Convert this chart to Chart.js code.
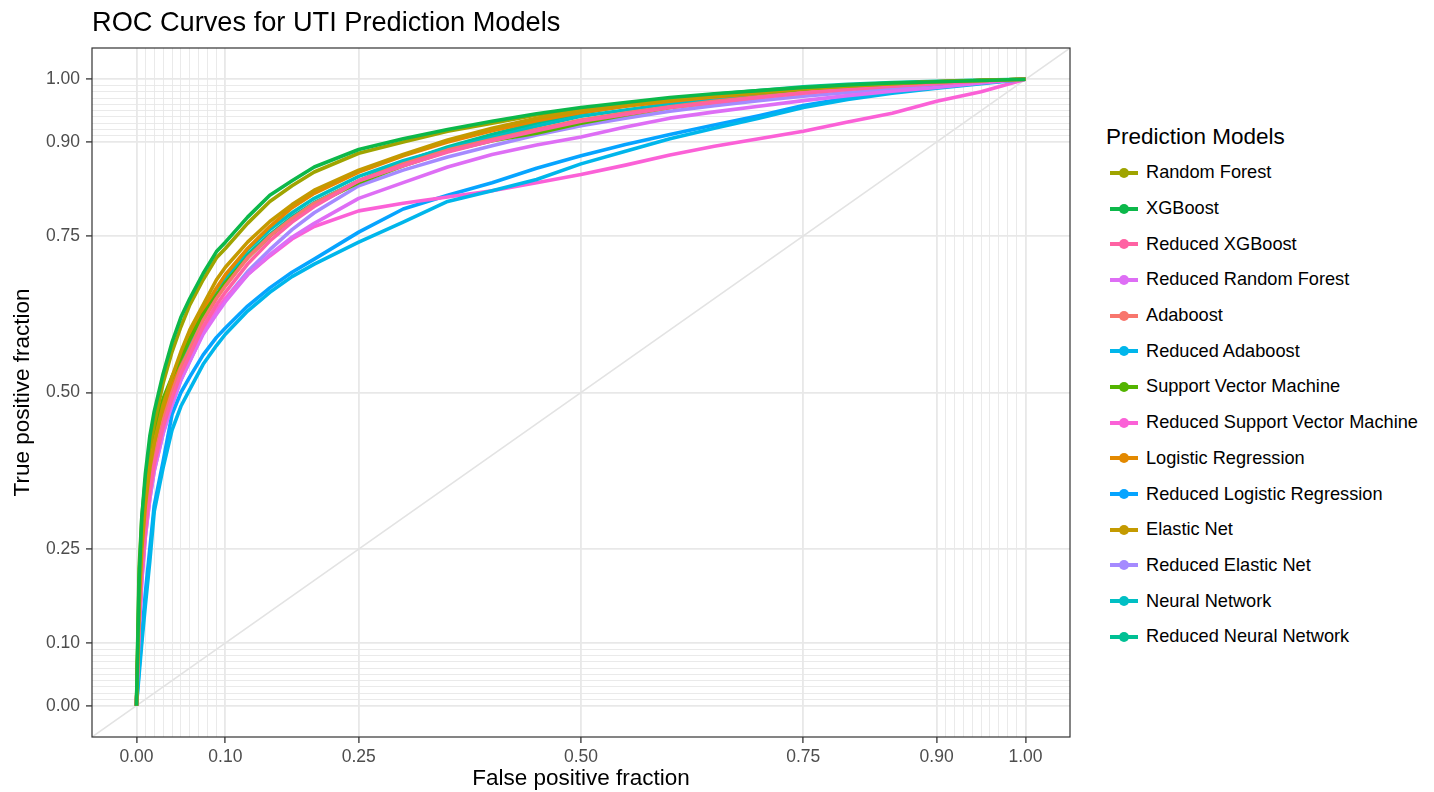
<!DOCTYPE html>
<html lang="en">
<head>
<meta charset="UTF-8">
<title>ROC Curves for UTI Prediction Models</title>
<script src="https://cdn.jsdelivr.net/npm/chart.js"></script>
<style>
  body { margin: 0; background: #fff; font-family: "Liberation Sans", Arial, sans-serif; }
  #wrap { position: relative; width: 1434px; height: 792px; }
  #chartBox { position: absolute; left: 0; top: 0; width: 1080px; height: 792px; }
  #legend { position: absolute; left: 1106px; top: 119px; color: #000; }
  .legend-title { font-size: 22.5px; height: 36px; line-height: 36px; }
  .legend-item { display: flex; align-items: center; height: 35.7px; font-size: 18.2px; }
  .key { position: relative; width: 28px; height: 4px; margin-left: 4px; margin-right: 8px; }
  .key span { position: absolute; left: 9px; top: -3px; width: 10px; height: 10px; border-radius: 50%; }
</style>
</head>
<body>
<div id="wrap">
  <div id="chartBox"><canvas id="rocChart"></canvas></div>
  <div id="legend"></div>
</div>
<script>
const chartTitle = 'ROC Curves for UTI Prediction Models';
const legendTitle = 'Prediction Models';

// axis breaks (plotROC style: labelled majors plus fine grid near the ends)
const majorTicks = [0, 0.1, 0.25, 0.5, 0.75, 0.9, 1];
const minorTicks = [0.01, 0.02, 0.03, 0.04, 0.05, 0.06, 0.07, 0.08, 0.09,
                    0.91, 0.92, 0.93, 0.94, 0.95, 0.96, 0.97, 0.98, 0.99];
const axisRange = [-0.05, 1.05];

// false positive fraction at which every curve is read
const fprGrid = [0, 0.003, 0.006, 0.01, 0.015, 0.02, 0.03, 0.04, 0.05, 0.06, 0.075, 0.09, 0.1,
  0.125, 0.15, 0.175, 0.2, 0.25, 0.3, 0.35, 0.4, 0.45, 0.5, 0.55, 0.6, 0.65, 0.7, 0.75, 0.8,
  0.85, 0.9, 0.95, 1];

// true positive fraction per model
const rfTpr = [0, 0.18, 0.28, 0.35, 0.41, 0.45, 0.515, 0.565, 0.605, 0.64, 0.68, 0.715, 0.73, 0.77, 0.805, 0.83, 0.852, 0.882, 0.9, 0.917, 0.93, 0.943, 0.953, 0.961, 0.968, 0.974, 0.979, 0.985, 0.989, 0.993, 0.996, 0.998, 1];
const xgbTpr = [0, 0.2, 0.3, 0.37, 0.43, 0.47, 0.53, 0.58, 0.62, 0.65, 0.69, 0.725, 0.74, 0.78, 0.815, 0.838, 0.86, 0.888, 0.905, 0.92, 0.933, 0.945, 0.955, 0.963, 0.971, 0.977, 0.982, 0.987, 0.991, 0.994, 0.996, 0.998, 1];
const redXgbTpr = [0, 0.13, 0.21, 0.28, 0.34, 0.385, 0.445, 0.49, 0.53, 0.56, 0.605, 0.64, 0.66, 0.705, 0.742, 0.772, 0.797, 0.838, 0.862, 0.884, 0.902, 0.918, 0.933, 0.944, 0.955, 0.963, 0.971, 0.978, 0.984, 0.989, 0.993, 0.997, 1];
const redRfTpr = [0, 0.12, 0.2, 0.27, 0.33, 0.375, 0.435, 0.48, 0.52, 0.55, 0.593, 0.625, 0.645, 0.688, 0.72, 0.748, 0.77, 0.81, 0.835, 0.86, 0.88, 0.895, 0.908, 0.924, 0.938, 0.948, 0.957, 0.966, 0.974, 0.981, 0.987, 0.994, 1];
const adaTpr = [0, 0.14, 0.22, 0.29, 0.35, 0.395, 0.455, 0.5, 0.54, 0.57, 0.615, 0.65, 0.67, 0.715, 0.75, 0.778, 0.802, 0.838, 0.865, 0.887, 0.904, 0.92, 0.935, 0.946, 0.956, 0.965, 0.972, 0.979, 0.985, 0.99, 0.994, 0.997, 1];
const redAdaTpr = [0, 0.05, 0.1, 0.16, 0.23, 0.31, 0.38, 0.44, 0.478, 0.505, 0.545, 0.575, 0.593, 0.63, 0.66, 0.685, 0.705, 0.74, 0.772, 0.805, 0.822, 0.84, 0.865, 0.885, 0.905, 0.922, 0.938, 0.955, 0.968, 0.978, 0.986, 0.993, 1];
const svmTpr = [0, 0.22, 0.3, 0.36, 0.41, 0.44, 0.49, 0.525, 0.555, 0.585, 0.625, 0.655, 0.675, 0.715, 0.75, 0.777, 0.8, 0.835, 0.862, 0.885, 0.902, 0.914, 0.93, 0.943, 0.955, 0.964, 0.972, 0.98, 0.986, 0.991, 0.995, 0.998, 1];
const redSvmTpr = [0, 0.13, 0.21, 0.28, 0.34, 0.385, 0.445, 0.49, 0.53, 0.56, 0.6, 0.632, 0.65, 0.688, 0.718, 0.745, 0.765, 0.79, 0.802, 0.812, 0.822, 0.835, 0.848, 0.863, 0.879, 0.893, 0.905, 0.917, 0.932, 0.946, 0.965, 0.98, 1];
const lrTpr = [0, 0.15, 0.24, 0.31, 0.37, 0.41, 0.47, 0.515, 0.555, 0.59, 0.632, 0.667, 0.688, 0.73, 0.765, 0.795, 0.818, 0.852, 0.878, 0.9, 0.918, 0.934, 0.947, 0.957, 0.965, 0.972, 0.978, 0.984, 0.989, 0.993, 0.996, 0.998, 1];
const redLrTpr = [0, 0.06, 0.11, 0.18, 0.25, 0.32, 0.39, 0.465, 0.5, 0.525, 0.56, 0.588, 0.603, 0.638, 0.667, 0.692, 0.713, 0.756, 0.793, 0.815, 0.835, 0.858, 0.878, 0.896, 0.912, 0.927, 0.942, 0.958, 0.97, 0.979, 0.987, 0.994, 1];
const enTpr = [0, 0.16, 0.25, 0.32, 0.38, 0.42, 0.48, 0.525, 0.565, 0.6, 0.64, 0.68, 0.7, 0.74, 0.773, 0.8, 0.823, 0.855, 0.88, 0.903, 0.922, 0.938, 0.95, 0.959, 0.967, 0.974, 0.98, 0.985, 0.99, 0.993, 0.996, 0.998, 1];
const redEnTpr = [0, 0.12, 0.2, 0.27, 0.33, 0.375, 0.435, 0.48, 0.52, 0.55, 0.595, 0.628, 0.65, 0.693, 0.728, 0.76, 0.787, 0.83, 0.855, 0.876, 0.894, 0.911, 0.926, 0.938, 0.949, 0.958, 0.966, 0.973, 0.979, 0.985, 0.99, 0.995, 1];
const nnTpr = [0, 0.15, 0.23, 0.3, 0.36, 0.41, 0.47, 0.515, 0.555, 0.585, 0.63, 0.665, 0.683, 0.728, 0.76, 0.787, 0.81, 0.845, 0.87, 0.89, 0.907, 0.925, 0.941, 0.951, 0.961, 0.969, 0.976, 0.982, 0.987, 0.991, 0.995, 0.998, 1];
const redNnTpr = [0, 0.15, 0.23, 0.3, 0.355, 0.4, 0.46, 0.505, 0.545, 0.575, 0.62, 0.655, 0.675, 0.72, 0.752, 0.78, 0.803, 0.838, 0.868, 0.892, 0.912, 0.93, 0.946, 0.958, 0.968, 0.976, 0.982, 0.988, 0.992, 0.995, 0.997, 0.999, 1];

const models = ['Random Forest', 'XGBoost', 'Reduced XGBoost', 'Reduced Random Forest', 'Adaboost',
  'Reduced Adaboost', 'Support Vector Machine', 'Reduced Support Vector Machine', 'Logistic Regression',
  'Reduced Logistic Regression', 'Elastic Net', 'Reduced Elastic Net', 'Neural Network', 'Reduced Neural Network'];
const modelTpr = [rfTpr, xgbTpr, redXgbTpr, redRfTpr, adaTpr, redAdaTpr, svmTpr, redSvmTpr,
  lrTpr, redLrTpr, enTpr, redEnTpr, nnTpr, redNnTpr];
const modelColors = ['#9FA400', '#0CB84A', '#FF62A3', '#DE6EF5', '#F8766D', '#00B6EB', '#53B400',
  '#FB61D7', '#E38900', '#06A4FF', '#C49A00', '#A58AFF', '#00BFC4', '#00C094'];
// curves that sit visibly on top of their neighbours in the original
const drawnOnTop = ['XGBoost', 'Elastic Net'];

const allTicks = majorTicks.concat(minorTicks).sort((a, b) => a - b);
const isMajor = v => majorTicks.includes(v);

function axis(titleText, titlePad, tickPad, fitSize) {
  return {
    type: 'linear',
    min: axisRange[0],
    max: axisRange[1],
    afterBuildTicks: scale => { scale.ticks = allTicks.map(v => ({ value: v })); },
    afterFit: scale => {
      if (scale.isHorizontal()) scale.height = fitSize; else scale.width = fitSize;
    },
    ticks: {
      autoSkip: false,
      maxRotation: 0,
      minRotation: 0,
      padding: tickPad,
      color: '#4D4D4D',
      font: { family: '"Liberation Sans", Arial, sans-serif', size: 17.5 },
      callback: v => isMajor(v) ? v.toFixed(2) : ''
    },
    grid: {
      color: '#E8E8E8',
      lineWidth: c => (c.tick && isMajor(c.tick.value)) ? 1.8 : 0.9,
      tickColor: c => (c.tick && isMajor(c.tick.value)) ? '#333333' : 'rgba(0,0,0,0)',
      tickWidth: 1.3,
      tickLength: 6
    },
    border: { display: false },
    title: {
      display: true,
      text: titleText,
      color: '#000',
      padding: titlePad,
      font: { family: '"Liberation Sans", Arial, sans-serif', size: 22.5 }
    }
  };
}

// panel frame and left-aligned plot title
const panelFrame = {
  id: 'panelFrame',
  afterDatasetsDraw(chart) {
    const { ctx, chartArea: a } = chart;
    ctx.save();
    ctx.strokeStyle = '#333333';
    ctx.lineWidth = 1.2;
    ctx.strokeRect(a.left, a.top, a.right - a.left, a.bottom - a.top);
    ctx.fillStyle = '#000';
    ctx.font = '27.2px "Liberation Sans", Arial, sans-serif';
    ctx.textBaseline = 'middle';
    ctx.fillText(chartTitle, a.left, 24);
    ctx.restore();
  }
};

const datasets = models.map((name, i) => ({
  label: name,
  data: fprGrid.map((x, j) => ({ x: x, y: modelTpr[i][j] })),
  borderColor: modelColors[i],
  backgroundColor: modelColors[i],
  borderWidth: 3.6,
  borderJoinStyle: 'round',
  pointRadius: 0,
  tension: 0,
  order: drawnOnTop.includes(name) ? -1 : 0
}));
// chance line y = x across the whole panel
datasets.push({
  label: 'chance',
  data: axisRange.map(v => ({ x: v, y: v })),
  borderColor: '#E3E3E3',
  borderWidth: 1.5,
  pointRadius: 0,
  order: 1
});

new Chart(document.getElementById('rocChart'), {
  type: 'line',
  data: { datasets: datasets },
  options: {
    responsive: true,
    maintainAspectRatio: false,
    animation: false,
    layout: { padding: { top: 48, right: 10, left: 0, bottom: 0 } },
    scales: {
      x: axis('False positive fraction', { top: 0, bottom: 0 }, 4, 55),
      y: axis('True positive fraction', { top: 9, bottom: 0 }, 6, 92)
    },
    plugins: {
      legend: { display: false },
      tooltip: { enabled: false }
    }
  },
  plugins: [panelFrame]
});

// legend: line with a dot, like the ggplot key
const legendEl = document.getElementById('legend');
legendEl.innerHTML = '<div class="legend-title">' + legendTitle + '</div>' +
  models.map((name, i) =>
    '<div class="legend-item"><div class="key" style="background:' + modelColors[i] + '">' +
    '<span style="background:' + modelColors[i] + '"></span></div>' + name + '</div>'
  ).join('');
</script>
</body>
</html>
